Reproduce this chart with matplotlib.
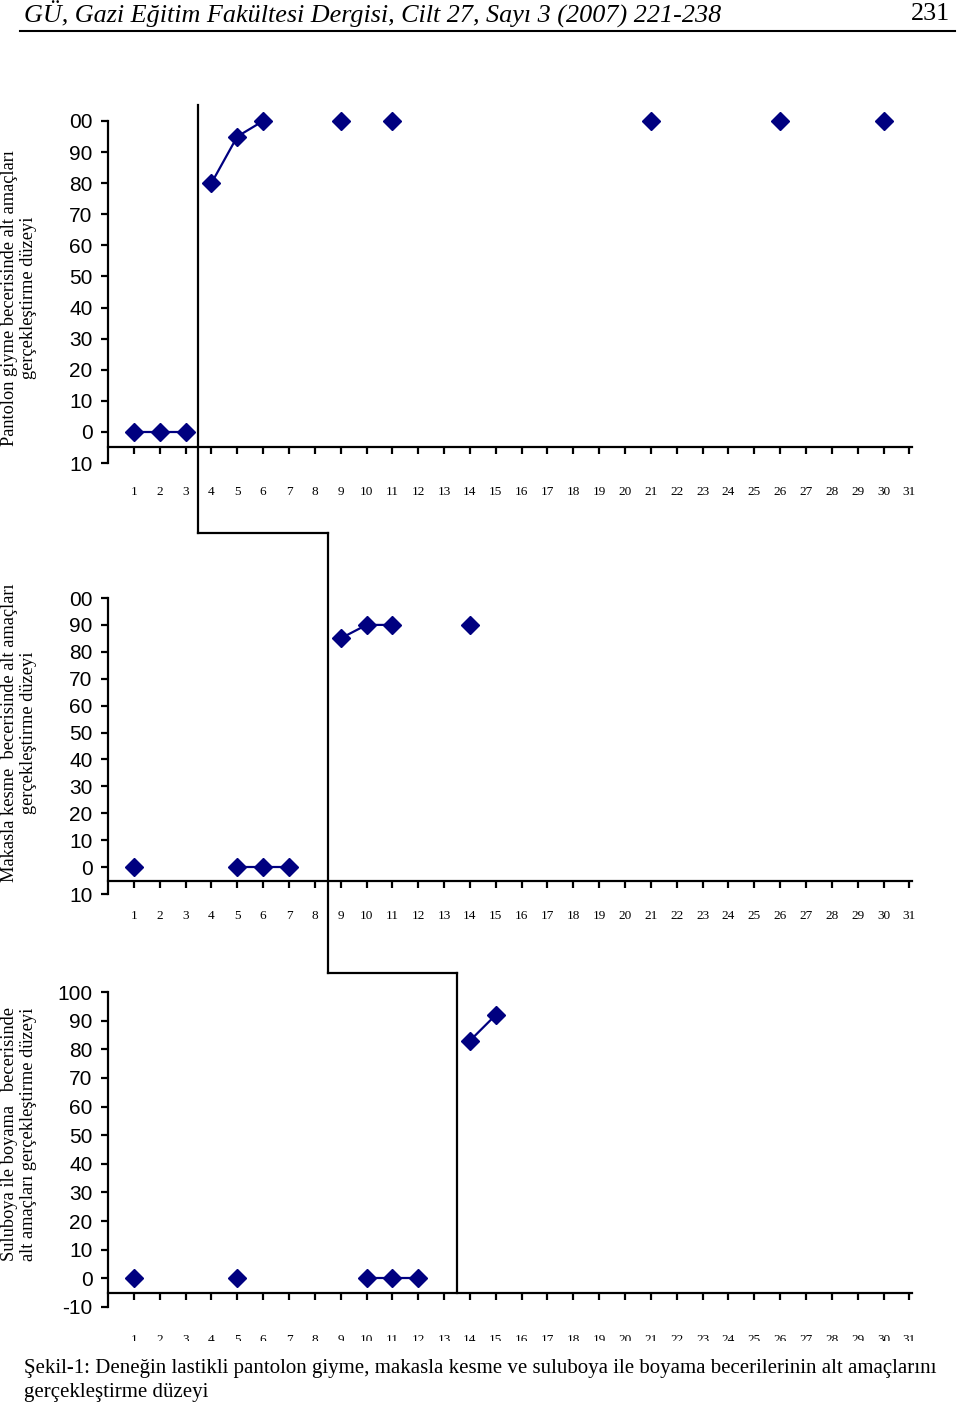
# Çoklu yoklama deseni - Şekil 1
import numpy as np
import matplotlib.pyplot as plt
import matplotlib.transforms as mtransforms
from matplotlib.lines import Line2D
from matplotlib.patches import Rectangle

nan = np.nan

# Oturumlar
oturum = np.arange(1, 32)

# Pantolon giyme (oturum 1-31)
pantolon = [0, 0, 0, 80, 95, 100, nan, nan, 100, nan, 100, nan, nan, nan, nan, nan,
            nan, nan, nan, nan, 100, nan, nan, nan, nan, 100, nan, nan, nan, 100, nan]
# Makasla kesme
makas = [0, nan, nan, nan, 0, 0, 0, nan, 85, 90, 90, nan, nan, 90, nan, nan,
         nan, nan, nan, nan, nan, nan, nan, nan, nan, nan, nan, nan, nan, nan, nan]
# Suluboya ile boyama
suluboya = [0, nan, nan, nan, 0, nan, nan, nan, nan, 0, 0, 0, nan, 83, 92, nan,
            nan, nan, nan, nan, nan, nan, nan, nan, nan, nan, nan, nan, nan, nan, nan]

# Faz degisim cizgileri (baslama duzeyi sonu)
faz_sinir = [3.5, 8.5, 13.5]

y_ticks = [-10, 0, 10, 20, 30, 40, 50, 60, 70, 80, 90, 100]
y_etiket_kesik = ['10', '0', '10', '20', '30', '40', '50', '60', '70', '80', '90', '00']
y_etiket_tam = ['-10', '0', '10', '20', '30', '40', '50', '60', '70', '80', '90', '100']

ylabels = ["Pantolon giyme becerisinde alt amaçları\ngerçekleştirme düzeyi",
           "Makasla kesme  becerisinde alt amaçları\ngerçekleştirme düzeyi",
           "Suluboya ile boyama   becerisinde\nalt amaçları gerçekleştirme düzeyi"]

veriler = [pantolon, makas, suluboya]
etiketler = [y_etiket_kesik, y_etiket_kesik, y_etiket_tam]

H = 1407.0
fig = plt.figure(figsize=(9.6, 14.07), dpi=100)

# panel kutulari (piksel: ust, alt)
paneller = [(121, 463), (598, 894), (992, 1307)]
etiket_y = [298, 733, 1134]
x_pad = [23, 16, 25]

lacivert = '#000080'
axes = []
for i in range(3):
    ust, alt = paneller[i]
    ax = fig.add_axes([108 / 960, 1 - alt / H, (912 - 108) / 960, (alt - ust) / H])
    y = np.array(veriler[i], dtype=float)
    sinir = faz_sinir[i]
    for m in [oturum < sinir, oturum > sinir]:
        ax.plot(oturum[m], y[m], color=lacivert, lw=1.6, marker='D', ms=9,
                mfc=lacivert, mec=lacivert, clip_on=False, zorder=3)
    ax.set_xlim(0, 31.1)
    ax.set_ylim(-10, 100)
    ax.spines['top'].set_visible(False)
    ax.spines['right'].set_visible(False)
    ax.spines['bottom'].set_position(('data', -5))
    ax.spines['left'].set_linewidth(1.6)
    ax.spines['bottom'].set_linewidth(1.6)
    ax.set_yticks(y_ticks)
    ax.set_yticklabels(etiketler[i], fontfamily='Liberation Sans', fontsize=15)
    ax.set_xticks(oturum)
    ax.set_xticklabels([str(k) for k in oturum], fontfamily='Liberation Serif', fontsize=9.5)
    ax.tick_params(axis='y', direction='out', length=5, width=1.6, pad=6)
    ax.tick_params(axis='x', direction='out', length=5, width=1.6, pad=x_pad[i])
    fig.text(19 / 960, 1 - etiket_y[i] / H, ylabels[i], rotation=90, ha='center', va='center',
             multialignment='center', fontfamily='Liberation Serif', fontsize=13.2,
             linespacing=1.2)
    axes.append(ax)

# Faz cizgisi (basamak)
basamak_y = [1 - 105 / H, 1 - 533 / H, 1 - 973 / H]
son_y = fig.transFigure.inverted().transform(axes[2].transData.transform((0, -5)))[1]
for i in range(3):
    tr = mtransforms.blended_transform_factory(axes[i].transData, fig.transFigure)
    y_alt = basamak_y[i + 1] if i < 2 else son_y
    fig.add_artist(Line2D([faz_sinir[i], faz_sinir[i]], [basamak_y[i], y_alt],
                          transform=tr, color='black', lw=1.6))
    if i < 2:
        fig.add_artist(Line2D([faz_sinir[i], faz_sinir[i + 1]], [y_alt, y_alt],
                              transform=tr, color='black', lw=1.6))

# Baslik
fig.text(24 / 960, 1 - 14 / H, "GÜ, Gazi Eğitim Fakültesi Dergisi, Cilt 27, Sayı 3 (2007) 221-238",
         ha='left', va='center', fontfamily='Liberation Serif', style='italic', fontsize=18.8)
fig.text(950 / 960, 1 - 14 / H, "231", ha='right', va='center',
         fontfamily='Liberation Serif', fontsize=18.8)
fig.add_artist(Line2D([20 / 960, 955 / 960], [1 - 31 / H, 1 - 31 / H],
                      transform=fig.transFigure, color='black', lw=1.5))

# alt kisimda kesik gorunum
fig.add_artist(Rectangle((0, 1 - 1355 / H), 1, 14 / H, transform=fig.transFigure,
                         facecolor='white', edgecolor='none', zorder=10))

# Sekil aciklamasi
fig.text(24 / 960, 1 - 1369 / H,
         "Şekil-1: Deneğin lastikli pantolon giyme, makasla kesme ve suluboya ile boyama becerilerinin alt amaçlarını",
         ha='left', va='center', fontfamily='Liberation Serif', fontsize=15, zorder=11)
fig.text(24 / 960, 1 - 1393 / H, "gerçekleştirme düzeyi",
         ha='left', va='center', fontfamily='Liberation Serif', fontsize=15, zorder=11)

fig.savefig('out.png', dpi=100)
